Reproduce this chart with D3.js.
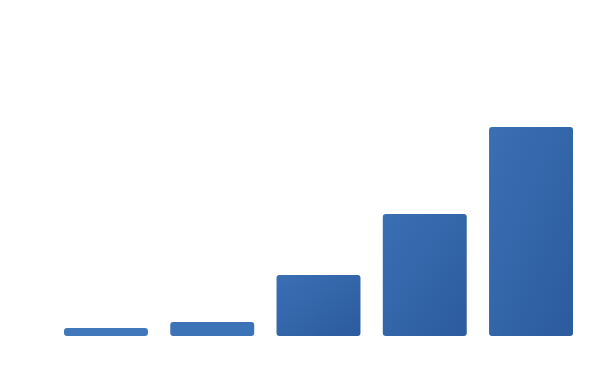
<!DOCTYPE html>
<html>
<head>
<meta charset="utf-8">
<script src="https://cdn.jsdelivr.net/npm/d3@7"></script>
<style>
  html, body { margin: 0; padding: 0; background: #fff; }
</style>
</head>
<body>
<div id="chart"></div>
<script>
// chart data (no labels are shown in the picture)
const categories = ['A', 'B', 'C', 'D', 'E'];
const values = [8, 14, 61, 122, 209];

const width = 591;
const height = 368;
const baseline = 336;

const svg = d3.select('#chart')
  .append('svg')
  .attr('width', width)
  .attr('height', height);

// diagonal blue gradient used by the taller bars
const defs = svg.append('defs');
const grad = defs.append('linearGradient')
  .attr('id', 'barGrad')
  .attr('x1', '0').attr('y1', '0')
  .attr('x2', '1').attr('y2', '1');
grad.append('stop').attr('offset', '0%').attr('stop-color', '#3a6fb4');
grad.append('stop').attr('offset', '100%').attr('stop-color', '#2c5b9e');

const x = d3.scaleBand()
  .domain(categories)
  .range([64, 573])
  .paddingInner(0.21)
  .paddingOuter(0);

const y = d3.scaleLinear()
  .domain([0, 250])
  .range([baseline, baseline - 250]);

// the two thin bars look flat in the picture
const flatColors = ['#4178bb', '#3c72b6'];

svg.selectAll('.bar')
  .data(values)
  .enter().append('rect')
  .attr('class', 'bar')
  .attr('x', (d, i) => x(categories[i]))
  .attr('y', d => y(d))
  .attr('width', x.bandwidth())
  .attr('height', d => y(0) - y(d))
  .attr('rx', 3)
  .attr('ry', 3)
  .attr('fill', (d, i) => i < 2 ? flatColors[i] : 'url(#barGrad)');
</script>
</body>
</html>
